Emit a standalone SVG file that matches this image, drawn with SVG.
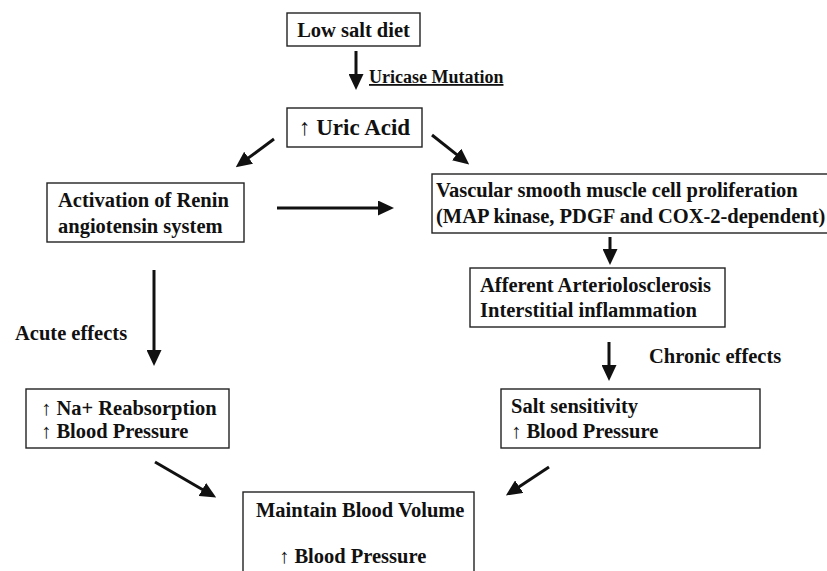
<svg xmlns="http://www.w3.org/2000/svg" width="827" height="571" viewBox="0 0 827 571">
<defs>
<style>
.box{fill:#fff;stroke:#222;stroke-width:1.4}
.arr{stroke:#111;stroke-width:3;fill:none;marker-end:url(#ah)}
</style>
<marker id="ah" viewBox="0 0 16 15" refX="1" refY="7.5" markerWidth="16" markerHeight="15" markerUnits="userSpaceOnUse" orient="auto">
<path d="M0,0 L16,7.5 L0,15 Z" fill="#111"/>
</marker>
</defs>
<rect width="827" height="571" fill="#fff"/>
<g id="connectors">
<line class="arr" x1="356" y1="51" x2="356" y2="75"/>
<line class="arr" x1="274" y1="139" x2="247.8" y2="158.4"/>
<line class="arr" x1="432" y1="135" x2="457.4" y2="155.1"/>
<line class="arr" x1="277" y1="208" x2="379" y2="208"/>
<line class="arr" x1="154" y1="270" x2="154" y2="351"/>
<line class="arr" x1="610" y1="237" x2="610" y2="250"/>
<line class="arr" x1="609" y1="342" x2="609" y2="366"/>
<line class="arr" x1="155" y1="462" x2="203.2" y2="490"/>
<line class="arr" x1="549" y1="467" x2="518.4" y2="487.2"/>
</g>
<g font-family="Liberation Serif" font-weight="bold" font-size="20.5" fill="#111">
<g id="label-uricase">
<text x="369" y="83" font-size="18" text-decoration="underline">Uricase Mutation</text>
</g>
<g id="label-acute">
<text x="15" y="340">Acute effects</text>
</g>
<g id="label-chronic">
<text x="649" y="363">Chronic effects</text>
</g>
<g id="node-low-salt">
<rect class="box" x="287" y="13" width="133" height="33"/>
<text x="353.5" y="37" text-anchor="middle">Low salt diet</text>
</g>
<g id="node-uric-acid">
<rect class="box" x="287" y="108" width="135" height="39"/>
<text x="299" y="135" font-size="23">↑ Uric Acid</text>
</g>
<g id="node-renin">
<rect class="box" x="47" y="183" width="197" height="59"/>
<text x="58" y="207">Activation of Renin</text>
<text x="58" y="233">angiotensin system</text>
</g>
<g id="node-vsmc">
<rect class="box" x="432" y="174" width="400" height="59"/>
<text x="436" y="197">Vascular smooth muscle cell proliferation</text>
<text x="436" y="223">(MAP kinase, PDGF and COX-2-dependent)</text>
</g>
<g id="node-afferent">
<rect class="box" x="470" y="268" width="255" height="59"/>
<text x="480" y="292">Afferent Arteriolosclerosis</text>
<text x="480" y="317">Interstitial inflammation</text>
</g>
<g id="node-na">
<rect class="box" x="26" y="389" width="203" height="59"/>
<text x="41" y="415">↑ Na+ Reabsorption</text>
<text x="41" y="438">↑ Blood Pressure</text>
</g>
<g id="node-salt">
<rect class="box" x="501" y="389" width="259" height="59"/>
<text x="511" y="413">Salt sensitivity</text>
<text x="511" y="438">↑ Blood Pressure</text>
</g>
<g id="node-maintain">
<rect class="box" x="243" y="492" width="231" height="100"/>
<text x="256" y="517">Maintain Blood Volume</text>
<text x="279" y="563">↑ Blood Pressure</text>
</g>
</g>
</svg>
